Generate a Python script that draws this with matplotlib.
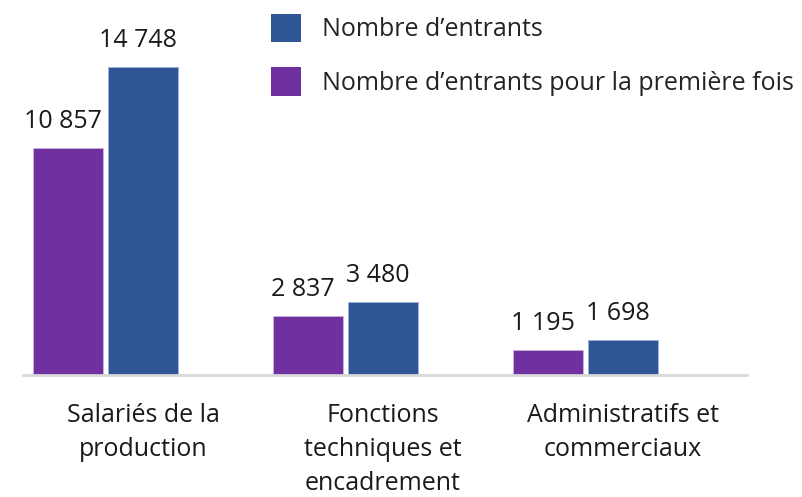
import matplotlib
matplotlib.use("Agg")
import matplotlib.pyplot as plt
from matplotlib.patches import Patch

categories = ["Salariés de la\nproduction", "Fonctions\ntechniques et\nencadrement", "Administratifs et\ncommerciaux"]
first_time = [10857, 2837, 1195]
entrants = [14748, 3480, 1698]
series_names = ["Nombre d\u2019entrants", "Nombre d\u2019entrants pour la première fois"]

def fmt(v):
    return f"{v:,}".replace(",", " ")

plt.rcParams['font.family'] = ['Open Sans', 'DejaVu Sans']
W, H = 803, 497
fig = plt.figure(figsize=(W/100, H/100), dpi=100)
ax = fig.add_axes([23/W, (H-375)/H, (747-23)/W, 375/H])

purple = "#7030A0"
blue = "#2F5597"
x = list(range(len(categories)))
w = 70/240
off_p = -75/240
xp = [i + off_p for i in x]
bp = ax.bar(xp, first_time, width=w, color=purple, edgecolor="#c9b3dc", linewidth=0.6)
bb = ax.bar(x, entrants, width=w, color=blue, edgecolor="#9fb3d9", linewidth=0.6)

for bars, vals in ((bp, first_time), (bb, entrants)):
    for r, v in zip(bars, vals):
        ax.annotate(fmt(v), (r.get_x() + r.get_width()/2, r.get_height()),
                    xytext=(-4, 10), textcoords="offset points",
                    ha="center", va="bottom", fontsize=18, color="#1a1a1a")

ax.set_xlim((23-143)/240, (747-143)/240)
ax.set_ylim(0, 375/(308/14748))
ax.set_xticks(x)
ax.set_xticklabels(categories, fontsize=18, color="#1a1a1a", linespacing=1.45, va="top")
ax.tick_params(axis="x", length=0, pad=20.5)
ax.set_yticks([])
for s in ("top", "right", "left"):
    ax.spines[s].set_visible(False)
ax.spines["bottom"].set_color("#d9d9d9")
ax.spines["bottom"].set_linewidth(2)
ax.patch.set_alpha(0)

handles = [Patch(facecolor=blue), Patch(facecolor=purple)]
fig.legend(handles, series_names, loc="upper left", bbox_to_anchor=(248/W, 1 + 9/H),
           frameon=False, fontsize=18, handlelength=1.2, handleheight=1.4,
           handletextpad=0.85, labelspacing=1.0, labelcolor="#252423")

fig.savefig("out.png", dpi=100)
